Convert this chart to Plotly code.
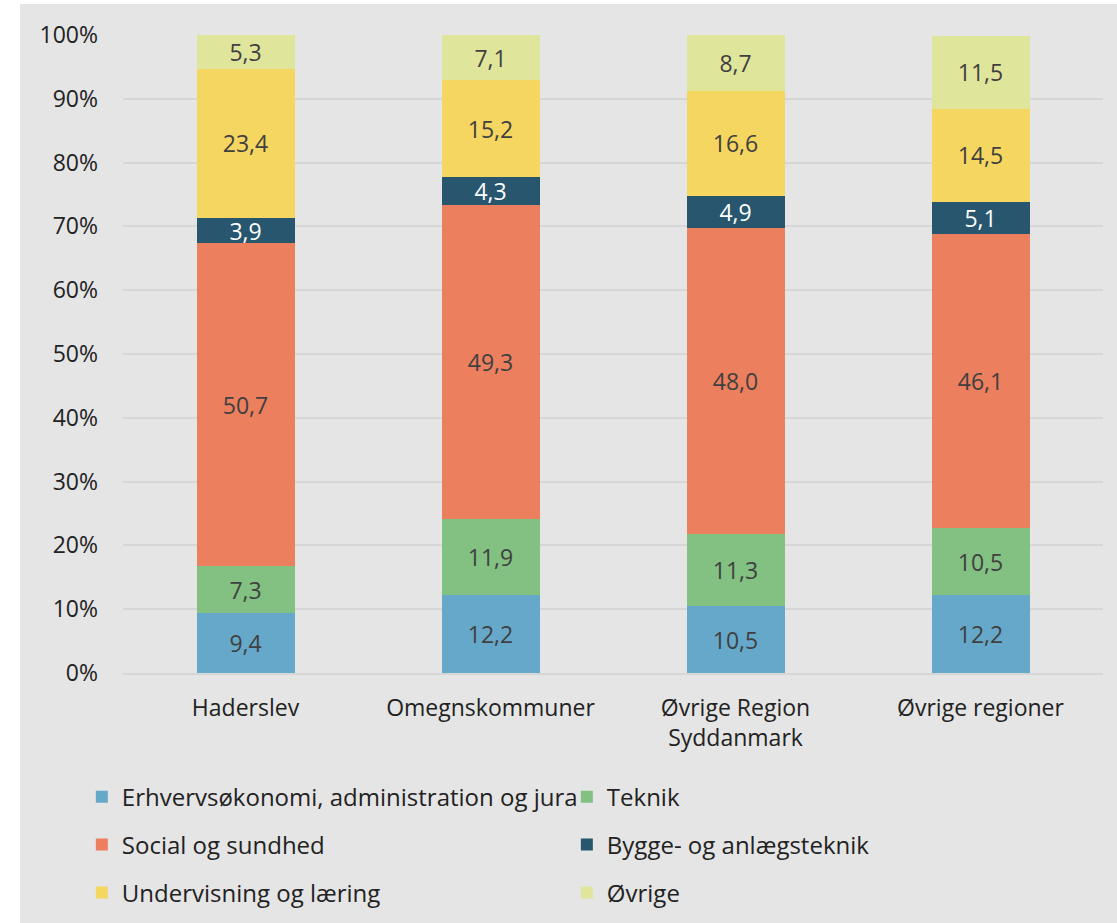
import plotly.graph_objects as go

categories = ['Haderslev', 'Omegnskommuner', 'Øvrige Region<br>Syddanmark', 'Øvrige regioner']

erhverv = [9.4, 12.2, 10.5, 12.2]
teknik = [7.3, 11.9, 11.3, 10.5]
social = [50.7, 49.3, 48.0, 46.1]
bygge = [3.9, 4.3, 4.9, 5.1]
undervisning = [23.4, 15.2, 16.6, 14.5]
oevrige = [5.3, 7.1, 8.7, 11.5]

y_ticks = list(range(0, 101, 10))
y_tick_labels = [str(t) + '%' for t in y_ticks]

series = [
    ('Erhvervsøkonomi, administration og jura', erhverv, '#65a8c9', '#404040', 'legend'),
    ('Teknik', teknik, '#82c181', '#404040', 'legend'),
    ('Social og sundhed', social, '#eb7f5e', '#404040', 'legend2'),
    ('Bygge- og anlægsteknik', bygge, '#27566e', '#ffffff', 'legend2'),
    ('Undervisning og læring', undervisning, '#f5d660', '#404040', 'legend3'),
    ('Øvrige', oevrige, '#dfe69c', '#404040', 'legend3'),
]

fig = go.Figure()
for name, vals, color, txtcolor, leg in series:
    fig.add_trace(go.Bar(x=categories, y=vals, name=name, marker=dict(color=color, line=dict(width=0)),
                         texttemplate='%{y:.1f}', textposition='inside', insidetextanchor='middle',
                         textangle=0, constraintext='none',
                         textfont=dict(size=23, color=txtcolor, family='Open Sans'),
                         legend=leg))

bg = '#e5e5e5'
leg_common = dict(orientation='h', x=-0.042, xanchor='left', yanchor='middle', entrywidth=440, entrywidthmode='pixels',
                  bgcolor='rgba(0,0,0,0)', font=dict(size=24, color='#222222', family='Open Sans'), traceorder='normal')

fig.update_layout(
    barmode='stack',
    bargap=0.6,
    separators=',.',
    width=1117, height=923,
    margin=dict(l=123, r=14, t=35, b=250, autoexpand=False),
    paper_bgcolor=bg, plot_bgcolor=bg,
    font=dict(family='Open Sans', size=24, color='#222222'),
    legend=dict(y=-0.1944, **leg_common),
    legend2=dict(y=-0.2696, **leg_common),
    legend3=dict(y=-0.3448, **leg_common),
    showlegend=True,
)
fig.update_yaxes(range=[0, 100], tickvals=y_ticks, ticktext=y_tick_labels, showgrid=True,
                 gridcolor='#d6d6d6', gridwidth=1.5, zeroline=False, ticklabelstandoff=24,
                 tickfont=dict(size=23, color='#222222'))
fig.update_xaxes(showline=True, linecolor='#d6d6d6', linewidth=1.5, ticklabelstandoff=14,
                 tickfont=dict(size=23, color='#222222'))

# white strips around the grey panel
fig.add_shape(type='rect', xref='paper', yref='paper', x0=-0.13, x1=-0.1051, y0=-0.5, y1=1.1,
              fillcolor='white', line=dict(width=0), layer='below')
fig.add_shape(type='rect', xref='paper', yref='paper', x0=-0.13, x1=1.05, y0=1.0486, y1=1.1,
              fillcolor='white', line=dict(width=0), layer='below')

fig.write_html('out.html', config={'displayModeBar': False},
               post_script="document.body.style.margin='0';")
